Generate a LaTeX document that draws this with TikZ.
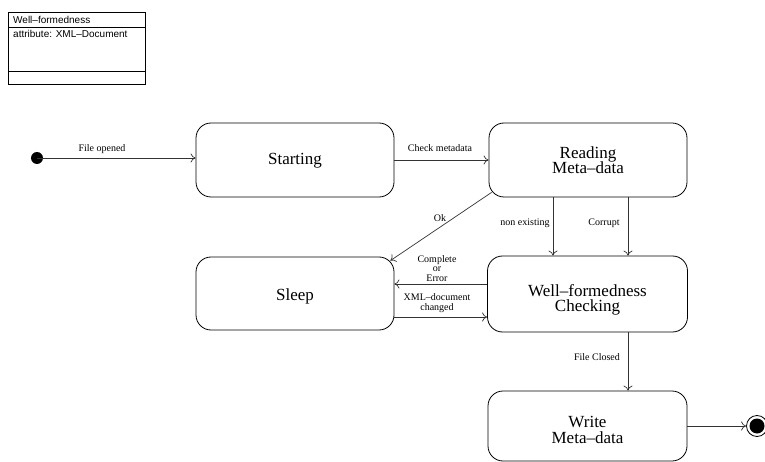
\documentclass[tikz,border=0pt]{standalone}
\usepackage{fontspec}
\setmainfont{Liberation Serif}
\setsansfont{Liberation Sans}
\usetikzlibrary{arrows.meta}
\begin{document}
\begin{tikzpicture}[x=1pt,y=-1pt,
 state/.style={draw, rounded corners=15pt, line width=0.8pt, inner sep=0pt},
 stxt/.style={font=\fontsize{17}{15.5}\selectfont, align=center, inner sep=0pt},
 arr/.style={-{To[length=5pt,width=9pt]}, line width=0.7pt, draw=black!80},
 lbl/.style={font=\fontsize{10}{9.5}\selectfont, align=center, inner sep=1pt},
 cls/.style={font=\sffamily\fontsize{10}{11}\selectfont, anchor=west, inner sep=0pt}]
\useasboundingbox (0,0) rectangle (765,462);
% class box
\draw[line width=0.7pt] (8,12) rectangle (145,84);
\draw[line width=0.7pt] (8,27) -- (145,27);
\draw[line width=0.7pt] (8,71) -- (145,71);
\node[cls] (clsname) at (13,19.5) {Well\textendash formedness};
\node[cls] (clsattr) at (13,34) {attribute: XML\textendash Document};
% states
\node[state, minimum width=198pt, minimum height=74pt] (start) at (295,160) {};
\node[stxt] (startt) at (295,161) {Starting};
\node[state, minimum width=198pt, minimum height=74pt] (read) at (588,160) {};
\node[stxt] (readt) at (588,160) {Reading\\Meta\textendash data};
\node[state, minimum width=198pt, minimum height=73pt] (sleep) at (295,293.5) {};
\node[stxt] (sleept) at (295,296) {Sleep};
\node[state, minimum width=200pt, minimum height=76pt] (wf) at (587.5,294) {};
\node[stxt] (wft) at (587.5,300) {Well\textendash formedness\\Checking};
\node[state, minimum width=199pt, minimum height=70pt] (write) at (587.5,426) {};
\node[stxt] (writet) at (587.5,430) {Write\\Meta\textendash data};
% initial / final
\node[circle, fill, minimum size=12pt, inner sep=0pt] (init) at (37,158) {};
\node[circle, draw, line width=0.8pt, minimum size=21pt, inner sep=0pt] (final) at (757,426) {};
\node[circle, fill, minimum size=15pt, inner sep=0pt] (finalin) at (final) {};
% helper coordinates
\coordinate (nx) at (553,0);
\coordinate (cx) at (628,0);
\coordinate (cy) at (0,284);
\coordinate (xy) at (0,317);
% edges
\draw[arr] (init.center) -- (start.west |- init);
\node[lbl] (lopen) at (102,149) {File opened};
\draw[arr] (start.east) -- (read.west);
\node[lbl] (lcheck) at (440,148) {Check metadata};
\draw[arr] ([shift={(3,-5)}]read.south west) -- ([shift={(-4,4)}]sleep.north east);
\node[lbl] (lok) at (440,218) {Ok};
\draw[arr] (read.south -| nx) -- (wf.north -| nx);
\node[lbl] (lnon) at (525,223) {non existing};
\draw[arr] (read.south -| cx) -- (wf.north -| cx);
\node[lbl] (lcor) at (604,223) {Corrupt};
\draw[arr] (wf.west |- cy) -- (sleep.east |- cy);
\node[lbl] (lcomp) at (437,268.5) {Complete\\or\\Error};
\draw[arr] (sleep.east |- xy) -- (wf.west |- xy);
\node[lbl] (lxml) at (437,303) {XML\textendash document\\changed};
\draw[arr] (wf.south -| cx) -- (write.north -| cx);
\node[lbl] (lclose) at (597,357) {File Closed};
\draw[arr] (write.east) -- (final.west);
\end{tikzpicture}
\end{document}
